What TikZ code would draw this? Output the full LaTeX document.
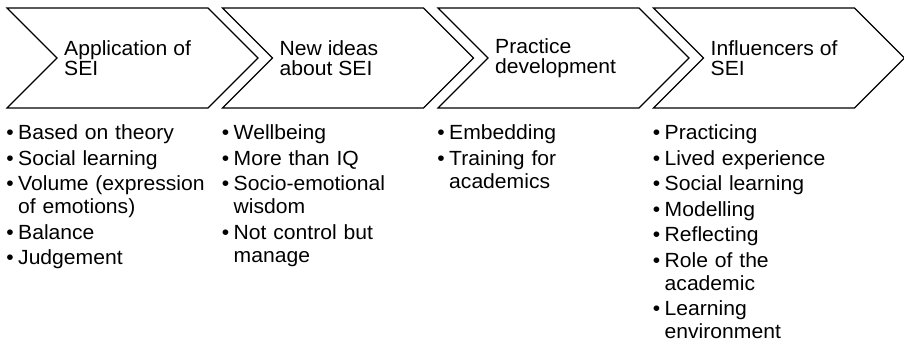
\documentclass[tikz,border=0pt]{standalone}
\usepackage{fontspec}
\setmainfont{Liberation Sans}[FakeStretch=1.03]
\usepackage{tikz}
\usetikzlibrary{calc}

\newcommand{\itm}{\par\leftskip=8pt\parskip=2.5pt\noindent\llap{•\hspace{4.5pt}}}

\begin{document}
\begin{tikzpicture}[x=1pt,y=-1pt,
    chev/.style={draw,line width=1.2pt,line join=miter},
    head/.style={anchor=west,align=left,inner sep=0pt,font=\fontsize{20.5}{20.5}\selectfont},
    items/.style={anchor=north west,text width=205pt,align=left,inner sep=0pt,font=\fontsize{20.5}{23}\selectfont}]

    \useasboundingbox (0,0) rectangle (904,345);

    \foreach \i/\name/\title in {0/app/{Application of\\SEI},1/new/{New ideas\\about SEI},
        2/prac/{Practice\\development},3/infl/{Influencers of\\SEI}} {
        \coordinate (\name) at (7+215.5*\i,8);
        \draw[chev] (\name) -- ++(201,0) -- ++(50,50) -- ++(-50,50) -- ++(-201,0) -- ++(50,-50) -- cycle;
        \node (\name-t) [head] at ($(\name)+(57,50)$) {\title};
    }

    \node (app-l) [items] at ($(app)+(3,106)$) {\itm Based on theory \itm Social learning
        \itm Volume (expression\\of emotions) \itm Balance \itm Judgement\par};
    \node (new-l) [items] at ($(new)+(3,106)$) {\itm Wellbeing \itm More than IQ
        \itm Socio-emotional\\wisdom \itm Not control but\\manage\par};
    \node (prac-l) [items] at ($(prac)+(3,106)$) {\itm Embedding \itm Training for\\academics\par};
    \node (infl-l) [items] at ($(infl)+(3,106)$) {\itm Practicing \itm Lived experience
        \itm Social learning \itm Modelling \itm Reflecting \itm Role of the\\academic
        \itm Learning\\environment\par};

\end{tikzpicture}
\end{document}
